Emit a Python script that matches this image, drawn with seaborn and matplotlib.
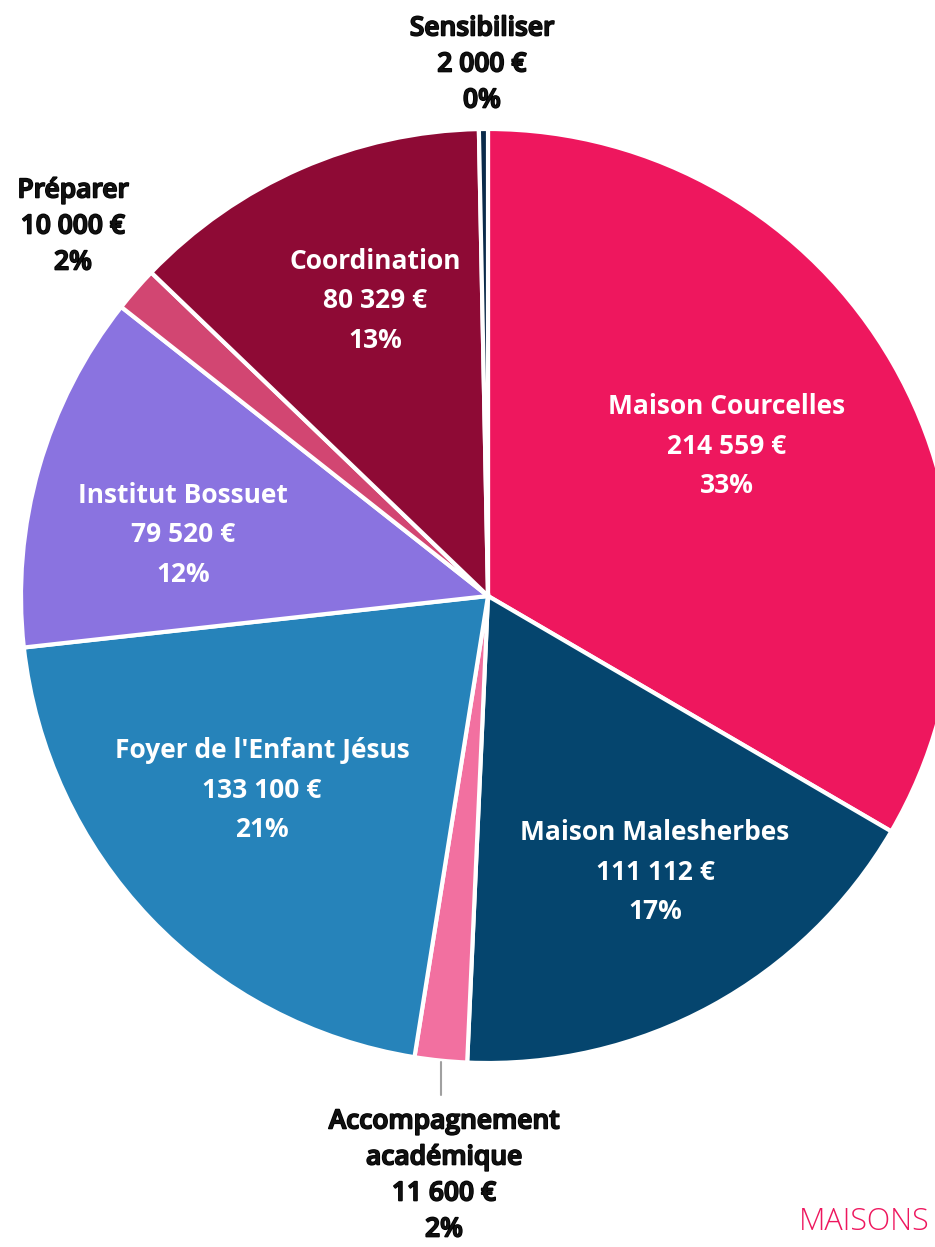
import matplotlib
matplotlib.use("Agg")
import matplotlib.pyplot as plt
import matplotlib.patheffects as pe
import seaborn as sns
import numpy as np

# ---- data ----
categories = ["Maison Courcelles", "Maison Malesherbes", "Accompagnement\nacadémique",
              "Foyer de l'Enfant Jésus", "Institut Bossuet", "Préparer",
              "Coordination", "Sensibiliser"]
values = [214559, 111112, 11600, 133100, 79520, 10000, 80329, 2000]
amount_labels = ["214 559 €", "111 112 €", "11 600 €", "133 100 €", "79 520 €",
                 "10 000 €", "80 329 €", "2 000 €"]
pct_labels = ["33%", "17%", "2%", "21%", "12%", "2%", "13%", "0%"]
colors = ["#EE175E", "#05456E", "#F270A0", "#2683BA", "#8A73E0", "#D24672",
          "#8E0A35", "#0B2A4A"]

sns.set_theme(style="white")
plt.rcParams["font.family"] = ["Open Sans", "DejaVu Sans"]

W, H = 935, 1247
fig = plt.figure(figsize=(W / 100, H / 100), dpi=100)
ax = fig.add_axes([0, 0, 1, 1])

def py(y):
    return H - y

cx, cy, R = 488, py(596), 467
ax.pie(values, colors=sns.color_palette(colors), startangle=90, counterclock=False,
       center=(cx, cy), radius=R, frame=True,
       wedgeprops=dict(edgecolor="white", linewidth=3))
ax.set_xlim(0, W)
ax.set_ylim(0, H)
ax.set_aspect("equal")
ax.axis("off")

# label positions (pixel coordinates of label centres) and inside/outside flags
label_pos = [(727, 446), (655, 872), (444, 1176), (262, 790), (183, 535),
             (73, 227), (375, 301), (482, 65)]
inside = [True, True, False, True, True, False, True, False]

for i, (x, y) in enumerate(label_pos):
    txt = f"{categories[i]}\n{amount_labels[i]}\n{pct_labels[i]}"
    if inside[i]:
        ax.text(x, py(y), txt, ha="center", va="center", color="white",
                fontsize=19, fontweight="bold", linespacing=1.58)
    else:
        ax.text(x, py(y), txt, ha="center", va="center", color="#111111",
                fontsize=19, fontweight="semibold", linespacing=1.58,
                path_effects=[pe.withStroke(linewidth=1.2, foreground="black")])

# leader line for the small bottom slice
ax.plot([441, 441], [py(1062), py(1095)], color="#A0A0A0", lw=1.5)

ax.text(930, py(1222), "MAISONS", ha="right", va="center", color="#EE175E",
        fontsize=22, fontweight="light")

fig.savefig("out.png", dpi=100)
